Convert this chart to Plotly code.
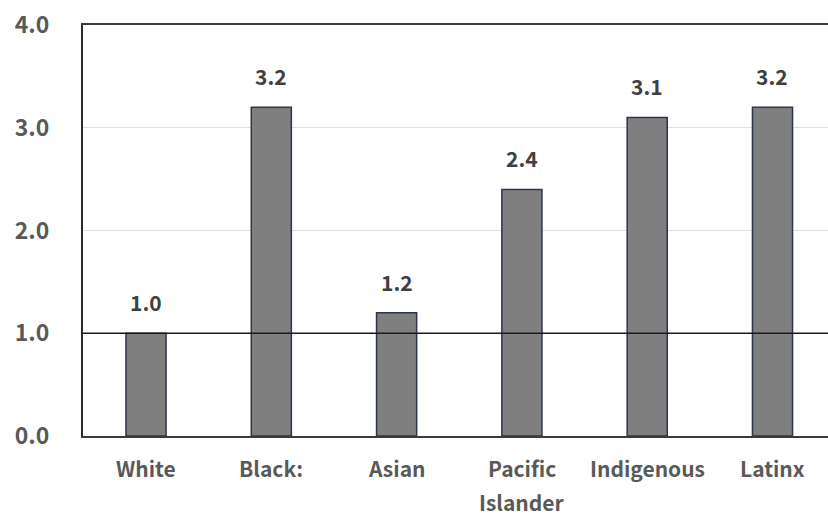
import plotly.graph_objects as go

categories = ["White", "Black:", "Asian", "Pacific Islander", "Indigenous", "Latinx"]
label_lines = [["White"], ["Black:"], ["Asian"], ["Pacific", "Islander"], ["Indigenous"], ["Latinx"]]
values = [1.0, 3.2, 1.2, 2.4, 3.1, 3.2]
y_ticks = [0, 1, 2, 3, 4]
y_ticktext = ["0.0", "1.0", "2.0", "3.0", "4.0"]
reference_level = 1.0

FONT = "Noto Sans CJK JP"
xs = list(range(len(categories)))

fig = go.Figure()
fig.add_trace(go.Bar(
    x=xs, y=values, width=0.32,
    marker=dict(color="#7f7f7f", line=dict(color="#2b3550", width=1.5)),
    hoverinfo="skip",
))

annotations = []
for x, v in zip(xs, values):
    annotations.append(dict(
        x=x, y=v, xref="x", yref="y", text=f"{v:.1f}", showarrow=False,
        yanchor="bottom", yshift=14,
        font=dict(family=FONT, size=21, color="#404040", weight="bold"),
    ))
for x, lines in zip(xs, label_lines):
    for i, line in enumerate(lines):
        annotations.append(dict(
            x=x, y=0, xref="x", yref="y", text=line, showarrow=False,
            yanchor="middle", yshift=-32 - 34 * i,
            font=dict(family=FONT, size=21, color="#595959", weight="bold"),
        ))

fig.update_layout(
    width=828, height=518,
    margin=dict(l=83, r=0, t=25, b=82),
    paper_bgcolor="white", plot_bgcolor="white",
    showlegend=False,
    annotations=annotations,
    shapes=[dict(type="line", xref="paper", yref="y", x0=0, x1=1,
                 y0=reference_level, y1=reference_level,
                 line=dict(color="#1a1a1a", width=1.5), layer="above")],
    xaxis=dict(range=[-0.503, 5.443], tickvals=xs, ticktext=[""] * len(xs),
               showgrid=False, zeroline=False, ticks="",
               showline=True, linecolor="#3a3a3a", linewidth=2, mirror=True),
    yaxis=dict(range=[0, 4], tickvals=y_ticks, ticktext=y_ticktext,
               showgrid=True, gridcolor="#e0e0e0", gridwidth=1, zeroline=False,
               showline=True, linecolor="#2a2a2a", linewidth=2, ticks="",
               ticklabelstandoff=27,
               tickfont=dict(family=FONT, size=23, color="#595959", weight="bold")),
)

fig.write_html("out.html")
